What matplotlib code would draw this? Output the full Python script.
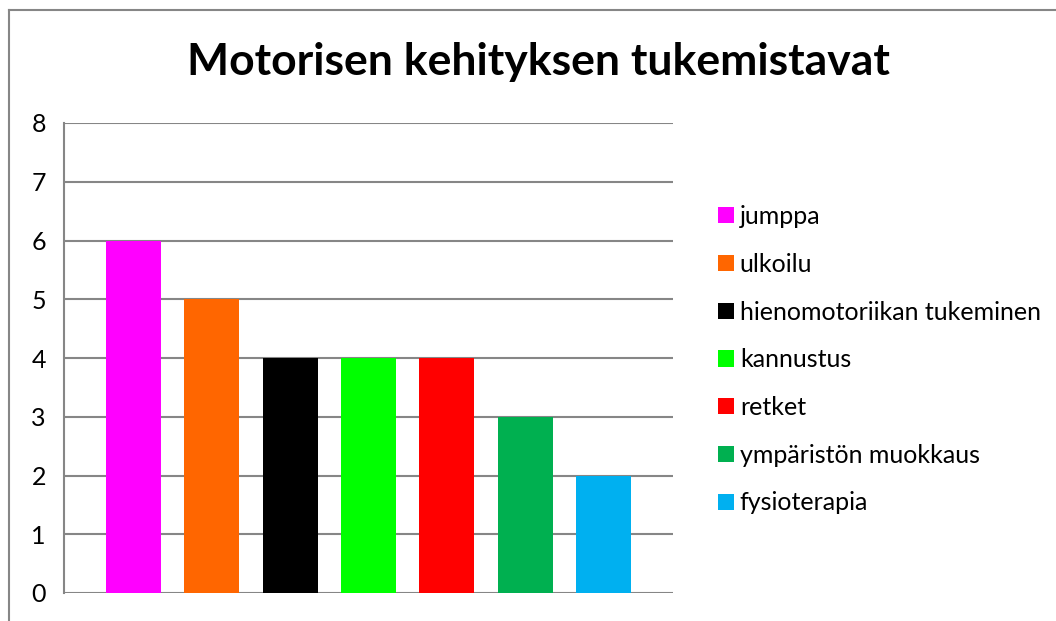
import numpy as np
import matplotlib
matplotlib.use("Agg")
import matplotlib.pyplot as plt
from matplotlib.lines import Line2D
from matplotlib.patches import Patch

plt.rcParams['font.family'] = ['Lato', 'DejaVu Sans']

title = "Motorisen kehityksen tukemistavat"
categories = ["jumppa", "ulkoilu", "hienomotoriikan tukeminen", "kannustus",
              "retket", "ympäristön muokkaus", "fysioterapia"]
values = [6, 5, 4, 4, 4, 3, 2]
colors = ["#FF00FF", "#FF6600", "#000000", "#00FF00",
          "#FF0000", "#00B050", "#00B0F0"]
yticks = [0, 1, 2, 3, 4, 5, 6, 7, 8]

W, H = 1056, 621
fig = plt.figure(figsize=(W / 100, H / 100), dpi=100)
ax = fig.add_axes([64 / W, 1 - 593 / H, (673 - 64) / W, (593 - 123) / H])

x = np.arange(len(categories))
ax.bar(x, values, width=0.70, color=colors, zorder=2)

ax.set_xlim(-0.888, len(categories) - 1 + 0.888)
ax.set_ylim(0, 8)
ax.set_yticks(yticks)
ax.set_xticks([])
ax.yaxis.grid(True, color="#868686", linewidth=1.5, zorder=0)
ax.set_axisbelow(True)
for s in ["top", "right", "bottom"]:
    ax.spines[s].set_visible(False)
ax.spines["left"].set_color("#868686")
ax.spines["left"].set_linewidth(1.5)
ax.tick_params(axis="y", length=0, pad=13, labelsize=18)

fig.text(538 / W, 1 - 62 / H, title, ha="center", va="center",
         fontsize=32, fontweight="bold")

handles = [Patch(facecolor=c, edgecolor="none") for c in colors]
fig.legend(handles, categories, loc="upper left",
           bbox_to_anchor=(708 / W, 1 - 195 / H), frameon=False,
           fontsize=18, handlelength=0.62, handleheight=0.62,
           handletextpad=0.25, labelspacing=0.99, borderaxespad=0)

# chart border (left and top visible)
fig.add_artist(Line2D([8.5 / W, 8.5 / W], [0, 1 - 9.5 / H],
                      transform=fig.transFigure, color="#868686", lw=1.5))
fig.add_artist(Line2D([8.5 / W, 1], [1 - 9.5 / H, 1 - 9.5 / H],
                      transform=fig.transFigure, color="#868686", lw=1.5))

fig.savefig("out.png", dpi=100)
